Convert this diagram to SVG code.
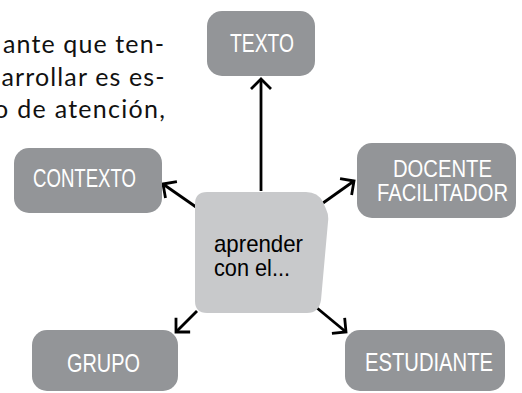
<svg xmlns="http://www.w3.org/2000/svg" width="522" height="393" viewBox="0 0 522 393">
<defs>
<style>
.box{fill:#939598}
.center{fill:#C8C9CB}
.lbl{font-family:"Liberation Sans",Arial,sans-serif;font-size:25px;fill:#ffffff}
.lbl2{font-family:"Liberation Sans",Arial,sans-serif;font-size:24px;fill:#ffffff}
.clbl{font-family:"Liberation Sans",Arial,sans-serif;font-size:24px;fill:#000000}
.para{font-family:Lato,"Open Sans",sans-serif;font-size:25px;fill:#111111}
.conn{stroke:#000;stroke-width:2.8;fill:none}
</style>
<marker id="arr" markerUnits="userSpaceOnUse" viewBox="-16 -14 20 28" markerWidth="20" markerHeight="28" refX="0" refY="0" orient="auto" overflow="visible">
<path d="M-10,-10 L0,0 L-10,10" fill="none" stroke="#000" stroke-width="2.8"/>
</marker>
</defs>
<rect width="522" height="393" fill="#ffffff"/>
<g id="paragraph">
<text class="para" x="3" y="53" textLength="161" lengthAdjust="spacing">ante que ten-</text>
<text class="para" x="1.5" y="86" textLength="163" lengthAdjust="spacing">arrollar es es-</text>
<text class="para" x="-6" y="118" textLength="171" lengthAdjust="spacing">o de atención,</text>
</g>
<g id="connectors">
<line class="conn" x1="261" y1="191" x2="261" y2="79" marker-end="url(#arr)"/>
<line class="conn" x1="196" y1="207" x2="163" y2="184" marker-end="url(#arr)"/>
<line class="conn" x1="323" y1="203" x2="354" y2="181" marker-end="url(#arr)"/>
<line class="conn" x1="197" y1="311" x2="176" y2="332" marker-end="url(#arr)"/>
<line class="conn" x1="317" y1="308" x2="346" y2="332" marker-end="url(#arr)"/>
</g>
<g id="node-center">
<path class="center" d="M207,192 H306 Q318,192 323,202 L326,209 Q329,215 328,222 L321,300 Q319,313 307,313 H207 Q195,313 195,301 V204 Q195,192 207,192 Z"/>
<text class="clbl" x="214" y="252" textLength="89" lengthAdjust="spacingAndGlyphs">aprender</text>
<text class="clbl" x="214" y="276" textLength="76" lengthAdjust="spacingAndGlyphs">con el...</text>
</g>
<g id="node-texto">
<rect class="box" x="207" y="11" width="108" height="65" rx="15"/>
<text class="lbl" x="230" y="52" textLength="64" lengthAdjust="spacingAndGlyphs">TEXTO</text>
</g>
<g id="node-contexto">
<rect class="box" x="14" y="148" width="148" height="65" rx="15"/>
<text class="lbl" x="33" y="187" textLength="103" lengthAdjust="spacingAndGlyphs">CONTEXTO</text>
</g>
<g id="node-docente">
<rect class="box" x="357" y="143" width="159" height="75" rx="15"/>
<text class="lbl2" x="393" y="177" textLength="99" lengthAdjust="spacingAndGlyphs">DOCENTE</text>
<text class="lbl2" x="377" y="201" textLength="131" lengthAdjust="spacingAndGlyphs">FACILITADOR</text>
</g>
<g id="node-grupo">
<rect class="box" x="32" y="330" width="146" height="61" rx="15"/>
<text class="lbl" x="67" y="372" textLength="73" lengthAdjust="spacingAndGlyphs">GRUPO</text>
</g>
<g id="node-estudiante">
<rect class="box" x="345" y="330" width="160" height="61" rx="15"/>
<text class="lbl" x="365" y="371" textLength="128" lengthAdjust="spacingAndGlyphs">ESTUDIANTE</text>
</g>
</svg>
